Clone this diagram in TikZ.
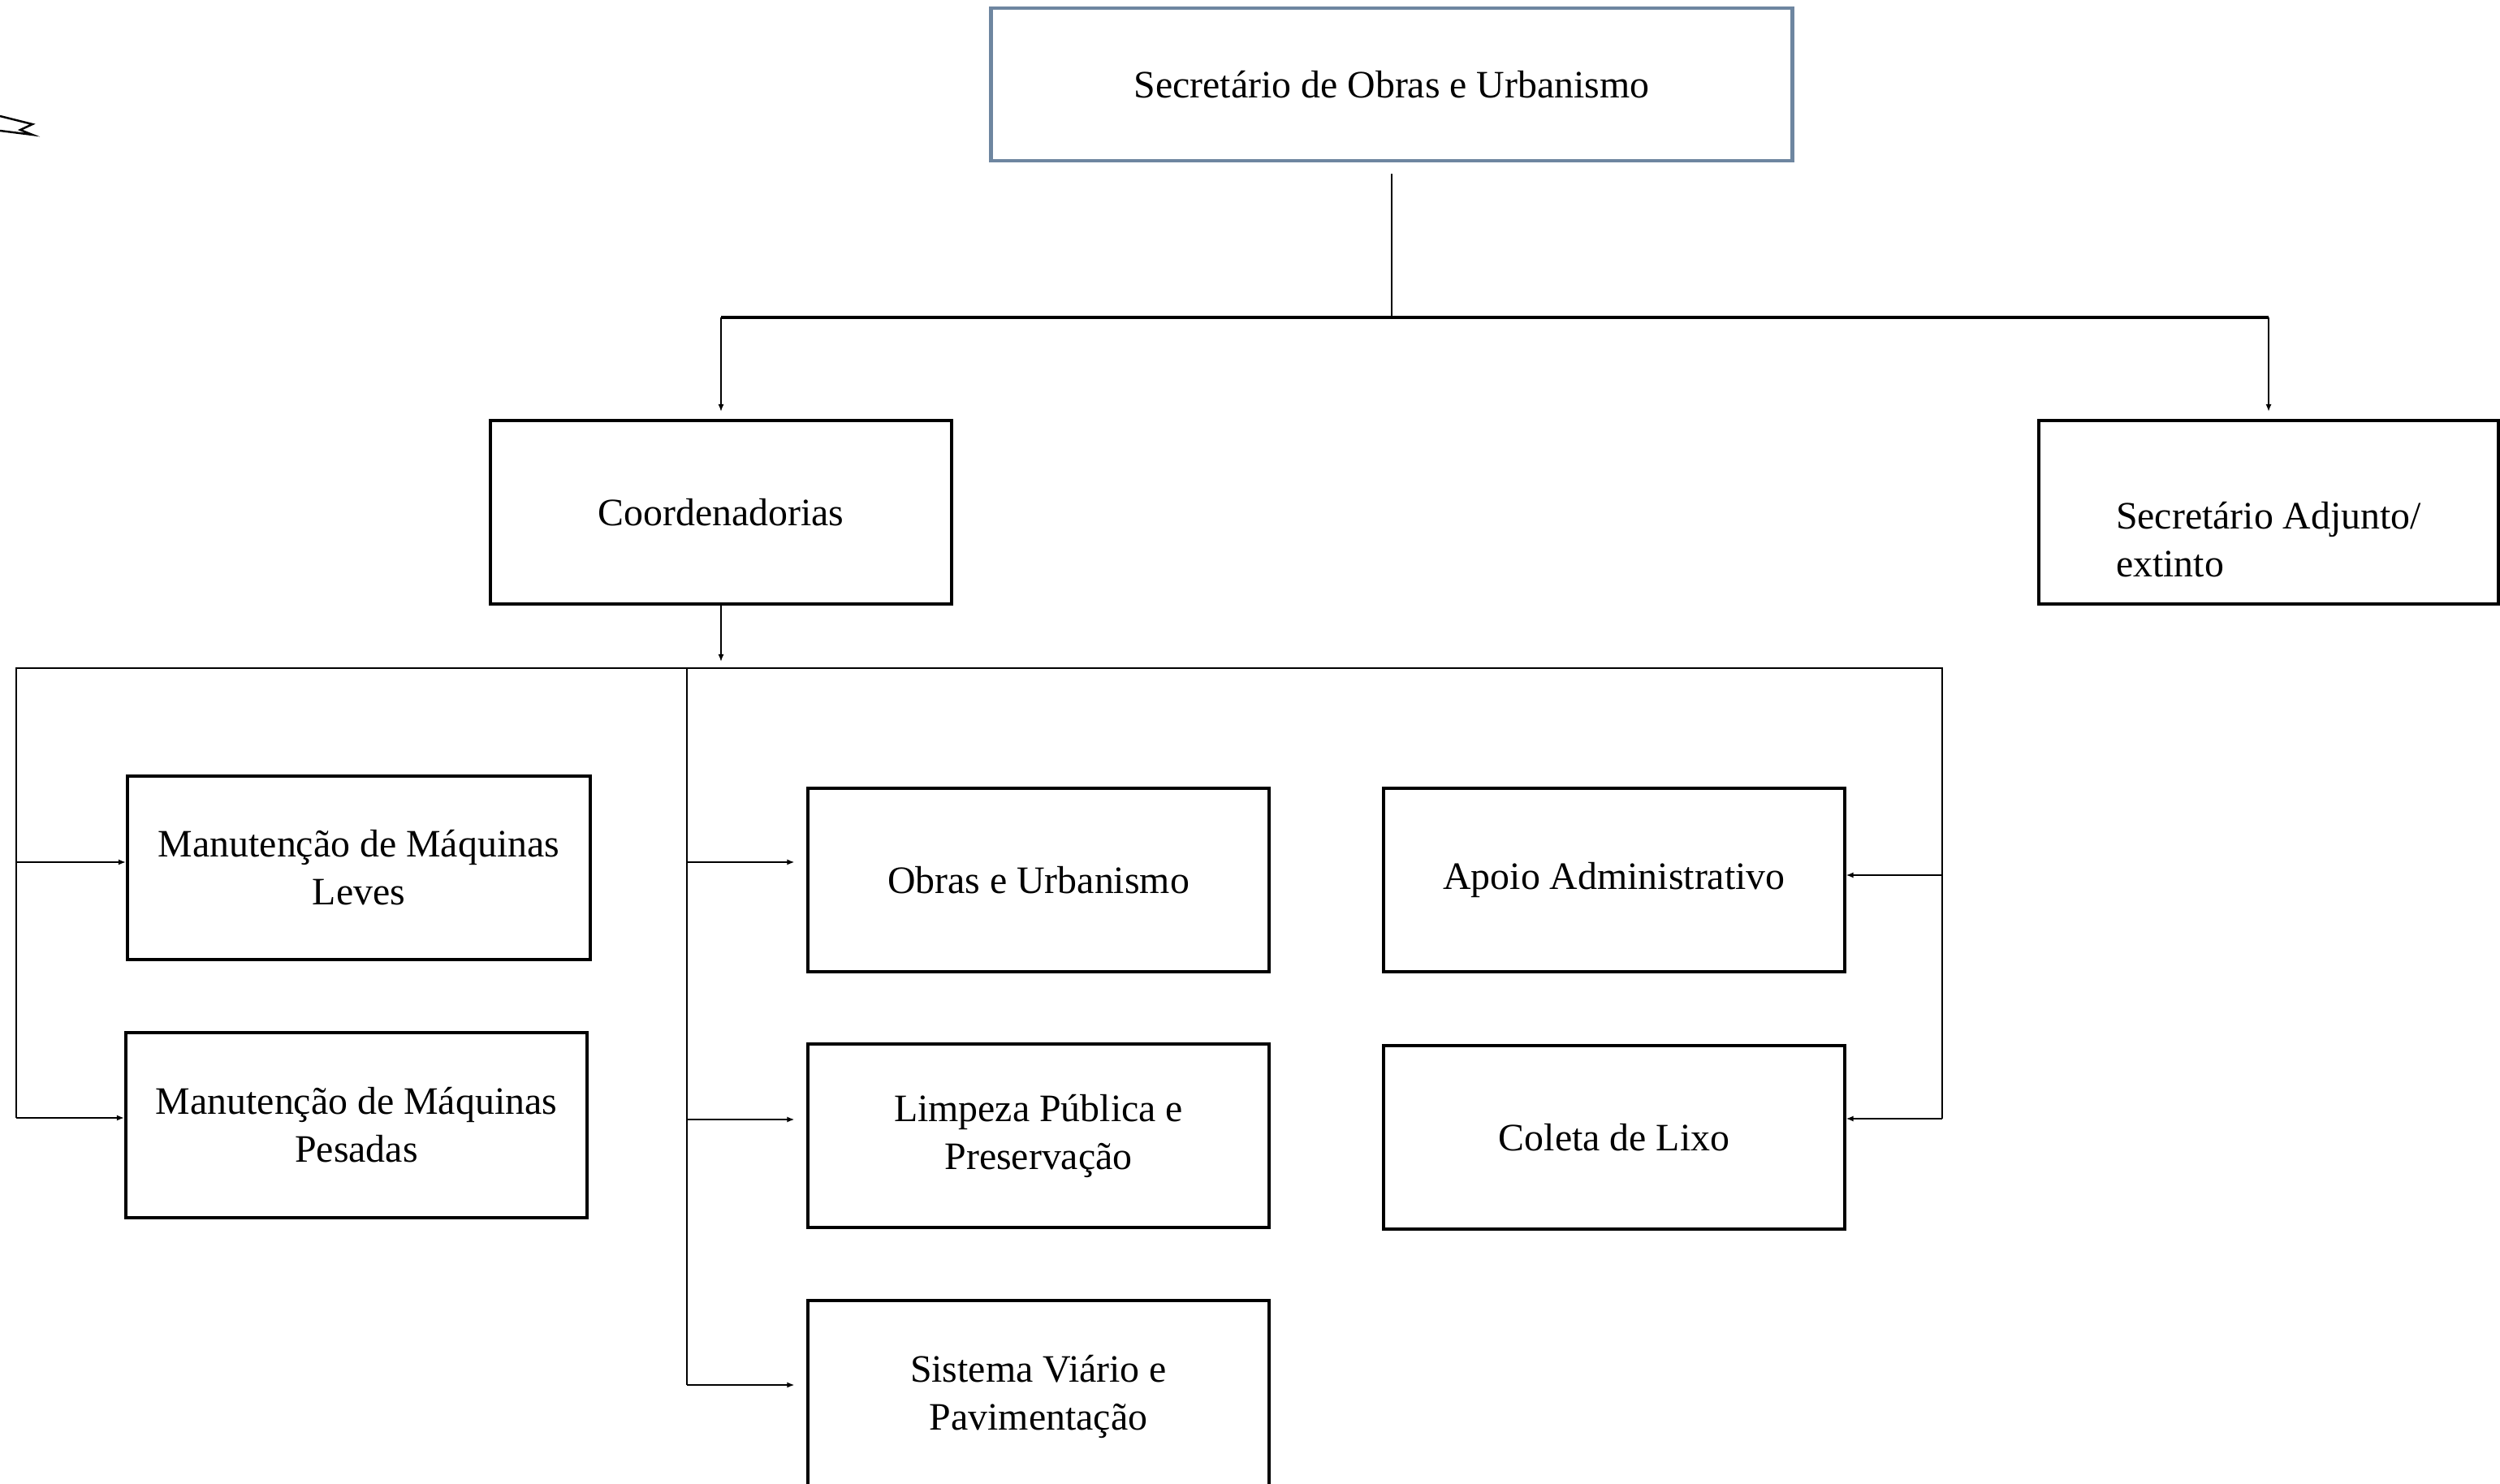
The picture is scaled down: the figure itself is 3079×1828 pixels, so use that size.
\documentclass[tikz,border=0pt]{standalone}
\usepackage{fontspec}
\setmainfont{Liberation Serif}
\usetikzlibrary{arrows.meta}
\definecolor{cinzaazul}{RGB}{110,134,160}

\begin{document}
\begin{tikzpicture}[x=0.01cm,y=-0.01cm,
        caixa/.style={draw,line width=1.1pt,minimum width=5.67cm,minimum height=2.26cm,align=center,font=\fontsize{13.6}{16.8}\selectfont},
        fio/.style={line width=0.45pt},
        seta/.style={fio,-{Latex[length=0.9mm,width=0.7mm]}}]
            \useasboundingbox (0,0) rectangle (3079,1828);
            \node[caixa,draw=cinzaazul,line width=1.3pt,minimum width=9.86cm,minimum height=1.88cm] (sec) at (1714,104) {Secretário de Obras e Urbanismo};
            \node[caixa] (coord) at (888,631) {Coordenadorias};
            \node[caixa,minimum width=5.65cm,align=left] (adj) at (2794,631) {\strut\\Secretário Adjunto/\\extinto};
            \node[caixa,minimum width=5.70cm] (leves) at (442,1069) {Manutenção de Máquinas\\Leves};
            \node[caixa,minimum width=5.68cm,minimum height=2.28cm] (pesadas) at (439,1386) {Manutenção de Máquinas\\Pesadas};
            \node[caixa] (obras) at (1279,1084) {Obras e Urbanismo};
            \node[caixa] (limpeza) at (1279,1399) {Limpeza Pública e\\Preservação};
            \node[caixa,minimum height=2.36cm] (viario) at (1279,1720) {Sistema Viário e\\Pavimentação};
            \node[caixa] (apoio) at (1988,1084) {Apoio Administrativo};
            \node[caixa] (coleta) at (1988,1401) {Coleta de Lixo};

            \coordinate (ja) at (1714,391);
            \coordinate (ve) at (20,823);
            \coordinate (vm) at (846,823);
            \coordinate (vd) at (2392,823);
            \coordinate (sl) at ([yshift=0.07cm]leves.west);
            \coordinate (sp) at ([yshift=0.09cm]pesadas.west);
            \coordinate (so) at ([yshift=0.22cm]obras.west);
            \coordinate (sm) at ([yshift=0.2cm]limpeza.west);
            \coordinate (sv) at ([yshift=0.14cm]viario.west);
            \coordinate (sa) at ([yshift=0.06cm]apoio.east);
            \coordinate (sc) at ([yshift=0.23cm]coleta.east);

            \draw[fio,shorten <=0.14cm] (sec.south) -- (ja);
            \draw[line width=0.9pt] (coord.north |- ja) -- (adj.north |- ja);
            \draw[seta,shorten >=0.09cm] (coord.north |- ja) -- (coord.north);
            \draw[seta,shorten >=0.09cm] (adj.north |- ja) -- (adj.north);
            \draw[seta,shorten >=0.08cm] (coord.south) -- (coord.south |- ve);

            \draw[fio] (ve |- sp) -- (ve) -- (vd) -- (vd |- sc);
            \draw[fio] (vm) -- (vm |- sv);
            \draw[seta] (ve |- sl) -- (sl);
            \draw[seta] (ve |- sp) -- (sp);
            \draw[seta,shorten >=0.15cm] (vm |- so) -- (so);
            \draw[seta,shorten >=0.15cm] (vm |- sm) -- (sm);
            \draw[seta,shorten >=0.15cm] (vm |- sv) -- (sv);
            \draw[seta] (vd |- sa) -- (sa);
            \draw[seta] (vd |- sc) -- (sc);

            \draw[line width=0.7pt] (0,143) -- (40,153) -- (25,160) -- (40,166) -- (0,161);
        \end{tikzpicture}
\end{document}
